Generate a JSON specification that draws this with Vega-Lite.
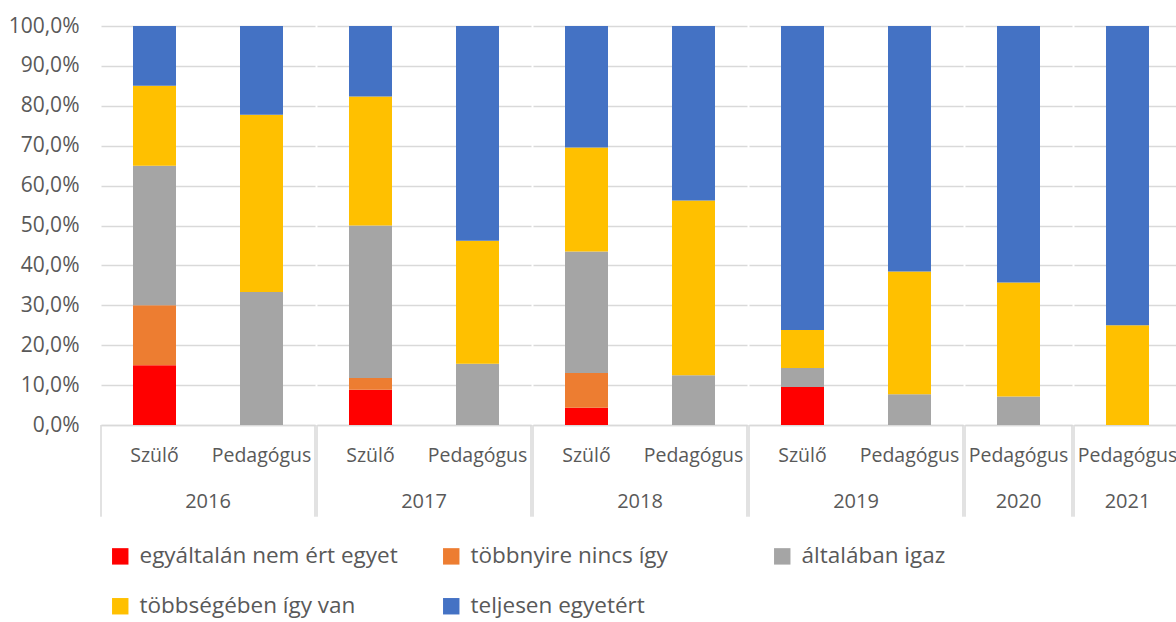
{
  "$schema": "https://vega.github.io/schema/vega-lite/v6.json",
  "padding": {"top": 15, "left": 8, "right": 1, "bottom": 0},
  "config": {
    "font": "Open Sans",
    "view": {"stroke": null},
    "axis": {"labelColor": "#595959", "labelFont": "Open Sans"},
    "axisY": {"tickCount": 10},
    "legend": {"labelFont": "Open Sans"}
  },
  "data": {
    "values": [
      {"year": "2016", "type": "Szülő", "cat": "egyáltalán nem ért egyet", "value": 0.15},
      {"year": "2016", "type": "Szülő", "cat": "többnyire nincs így", "value": 0.15},
      {"year": "2016", "type": "Szülő", "cat": "általában igaz", "value": 0.35},
      {"year": "2016", "type": "Szülő", "cat": "többségében így van", "value": 0.20},
      {"year": "2016", "type": "Szülő", "cat": "teljesen egyetért", "value": 0.15},
      {"year": "2016", "type": "Pedagógus", "cat": "egyáltalán nem ért egyet", "value": 0},
      {"year": "2016", "type": "Pedagógus", "cat": "többnyire nincs így", "value": 0},
      {"year": "2016", "type": "Pedagógus", "cat": "általában igaz", "value": 0.3333},
      {"year": "2016", "type": "Pedagógus", "cat": "többségében így van", "value": 0.4444},
      {"year": "2016", "type": "Pedagógus", "cat": "teljesen egyetért", "value": 0.2222},
      {"year": "2017", "type": "Szülő", "cat": "egyáltalán nem ért egyet", "value": 0.0882},
      {"year": "2017", "type": "Szülő", "cat": "többnyire nincs így", "value": 0.0294},
      {"year": "2017", "type": "Szülő", "cat": "általában igaz", "value": 0.3824},
      {"year": "2017", "type": "Szülő", "cat": "többségében így van", "value": 0.3235},
      {"year": "2017", "type": "Szülő", "cat": "teljesen egyetért", "value": 0.1765},
      {"year": "2017", "type": "Pedagógus", "cat": "egyáltalán nem ért egyet", "value": 0},
      {"year": "2017", "type": "Pedagógus", "cat": "többnyire nincs így", "value": 0},
      {"year": "2017", "type": "Pedagógus", "cat": "általában igaz", "value": 0.1538},
      {"year": "2017", "type": "Pedagógus", "cat": "többségében így van", "value": 0.3077},
      {"year": "2017", "type": "Pedagógus", "cat": "teljesen egyetért", "value": 0.5385},
      {"year": "2018", "type": "Szülő", "cat": "egyáltalán nem ért egyet", "value": 0.0435},
      {"year": "2018", "type": "Szülő", "cat": "többnyire nincs így", "value": 0.0870},
      {"year": "2018", "type": "Szülő", "cat": "általában igaz", "value": 0.3043},
      {"year": "2018", "type": "Szülő", "cat": "többségében így van", "value": 0.2609},
      {"year": "2018", "type": "Szülő", "cat": "teljesen egyetért", "value": 0.3043},
      {"year": "2018", "type": "Pedagógus", "cat": "egyáltalán nem ért egyet", "value": 0},
      {"year": "2018", "type": "Pedagógus", "cat": "többnyire nincs így", "value": 0},
      {"year": "2018", "type": "Pedagógus", "cat": "általában igaz", "value": 0.125},
      {"year": "2018", "type": "Pedagógus", "cat": "többségében így van", "value": 0.4375},
      {"year": "2018", "type": "Pedagógus", "cat": "teljesen egyetért", "value": 0.4375},
      {"year": "2019", "type": "Szülő", "cat": "egyáltalán nem ért egyet", "value": 0.0952},
      {"year": "2019", "type": "Szülő", "cat": "többnyire nincs így", "value": 0},
      {"year": "2019", "type": "Szülő", "cat": "általában igaz", "value": 0.0476},
      {"year": "2019", "type": "Szülő", "cat": "többségében így van", "value": 0.0952},
      {"year": "2019", "type": "Szülő", "cat": "teljesen egyetért", "value": 0.7619},
      {"year": "2019", "type": "Pedagógus", "cat": "egyáltalán nem ért egyet", "value": 0},
      {"year": "2019", "type": "Pedagógus", "cat": "többnyire nincs így", "value": 0},
      {"year": "2019", "type": "Pedagógus", "cat": "általában igaz", "value": 0.0769},
      {"year": "2019", "type": "Pedagógus", "cat": "többségében így van", "value": 0.3077},
      {"year": "2019", "type": "Pedagógus", "cat": "teljesen egyetért", "value": 0.6154},
      {"year": "2020", "type": "Pedagógus", "cat": "egyáltalán nem ért egyet", "value": 0},
      {"year": "2020", "type": "Pedagógus", "cat": "többnyire nincs így", "value": 0},
      {"year": "2020", "type": "Pedagógus", "cat": "általában igaz", "value": 0.0714},
      {"year": "2020", "type": "Pedagógus", "cat": "többségében így van", "value": 0.2857},
      {"year": "2020", "type": "Pedagógus", "cat": "teljesen egyetért", "value": 0.6429},
      {"year": "2021", "type": "Pedagógus", "cat": "egyáltalán nem ért egyet", "value": 0},
      {"year": "2021", "type": "Pedagógus", "cat": "többnyire nincs így", "value": 0},
      {"year": "2021", "type": "Pedagógus", "cat": "általában igaz", "value": 0},
      {"year": "2021", "type": "Pedagógus", "cat": "többségében így van", "value": 0.25},
      {"year": "2021", "type": "Pedagógus", "cat": "teljesen egyetért", "value": 0.75}
    ]
  },
  "facet": {
    "column": {
      "field": "year",
      "type": "ordinal",
      "header": {
        "title": null,
        "labelOrient": "bottom",
        "labelFontSize": 20,
        "labelColor": "#595959",
        "labelFont": "Open Sans",
        "labelPadding": -26
      }
    }
  },
  "spacing": 0,
  "resolve": {"scale": {"x": "independent"}},
  "spec": {
    "width": {"step": 107},
    "height": 399,
    "layer": [
      {
        "transform": [
          {"calculate": "indexof(['egyáltalán nem ért egyet', 'többnyire nincs így', 'általában igaz', 'többségében így van', 'teljesen egyetért'], datum.cat)", "as": "catOrder"}
        ],
        "mark": {"type": "bar", "width": 43},
        "encoding": {
          "x": {
            "field": "type",
            "type": "nominal",
            "sort": ["Szülő", "Pedagógus"],
            "scale": {"paddingInner": 0, "paddingOuter": 0},
            "axis": {
              "title": null,
              "labelAngle": 0,
              "ticks": false,
              "domainColor": "#D9D9D9",
              "domainWidth": 1.5,
              "labelFontSize": 19.5,
              "labelPadding": 21
            }
          },
          "y": {
            "field": "value",
            "type": "quantitative",
            "stack": "normalize",
            "scale": {"domain": [0, 1], "nice": false},
            "axis": {
              "title": null,
              "tickCount": 10,
              "labelExpr": "replace(format(datum.value, '.1%'), '.', ',')",
              "labelOverlap": false,
              "domain": false,
              "ticks": false,
              "gridColor": "#D9D9D9",
              "gridWidth": 1.5,
              "labelFontSize": 21,
              "labelPadding": 21
            }
          },
          "color": {
            "field": "cat",
            "type": "nominal",
            "sort": ["egyáltalán nem ért egyet", "többnyire nincs így", "általában igaz", "többségében így van", "teljesen egyetért"],
            "scale": {
              "domain": ["egyáltalán nem ért egyet", "többnyire nincs így", "általában igaz", "többségében így van", "teljesen egyetért"],
              "range": ["#FF0000", "#ED7D31", "#A5A5A5", "#FFC000", "#4472C4"]
            },
            "legend": {
              "title": null,
              "orient": "bottom",
              "columns": 3,
              "gridAlign": "all",
              "symbolType": "square",
              "symbolSize": 270,
              "symbolStrokeWidth": 0,
              "labelFontSize": 22.5,
              "labelLimit": 400,
              "labelOffset": 8,
              "labelColor": "#595959",
              "rowPadding": 27,
              "columnPadding": 42,
              "padding": 8,
              "offset": 19
            }
          },
          "order": {"field": "catOrder", "type": "quantitative", "sort": "ascending"}
        }
      },
      {
        "transform": [
          {"window": [{"op": "row_number", "as": "rn"}], "groupby": ["year"], "sort": [{"field": "type", "order": "descending"}]},
          {"filter": "datum.rn == 1"}
        ],
        "mark": {"type": "rule", "color": "#D9D9D9", "strokeWidth": 1.5},
        "encoding": {
          "x": {"field": "type", "type": "nominal", "sort": ["Szülő", "Pedagógus"], "bandPosition": 0},
          "y": {"datum": 0, "type": "quantitative"},
          "y2": {"datum": -0.23}
        }
      },
      {
        "transform": [
          {"window": [{"op": "row_number", "as": "rn"}], "groupby": ["year"], "sort": [{"field": "type", "order": "ascending"}]},
          {"filter": "datum.rn == 1"}
        ],
        "mark": {"type": "rule", "color": "#D9D9D9", "strokeWidth": 1.5},
        "encoding": {
          "x": {"field": "type", "type": "nominal", "sort": ["Szülő", "Pedagógus"], "bandPosition": 1},
          "y": {"datum": 0, "type": "quantitative"},
          "y2": {"datum": -0.23}
        }
      }
    ]
  }
}
